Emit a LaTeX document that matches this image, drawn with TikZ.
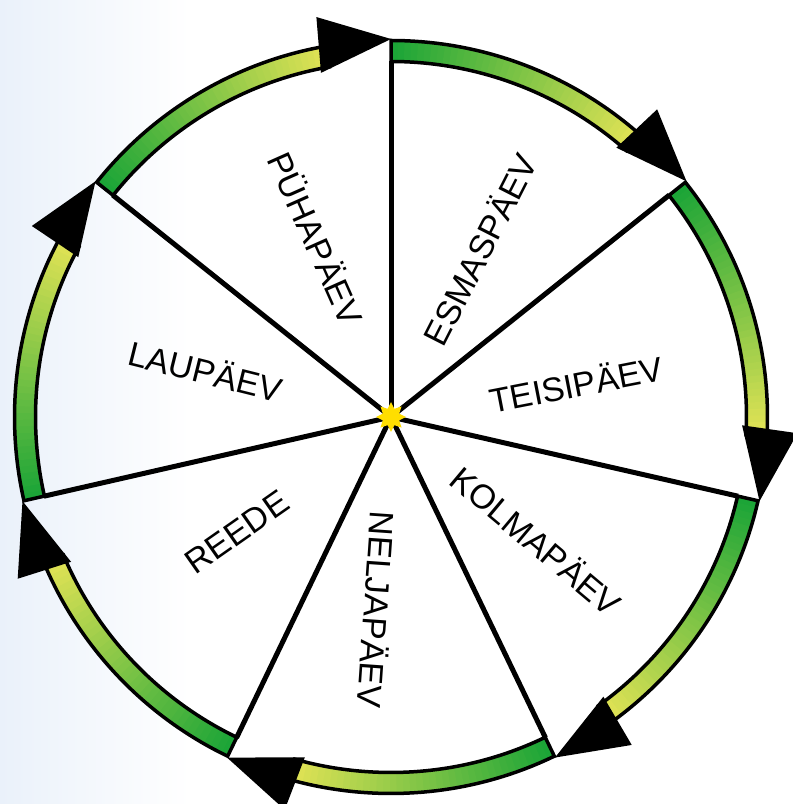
\documentclass[tikz,border=0pt]{standalone}
\usepackage{fontspec}
\setmainfont{Liberation Sans}
\usetikzlibrary{calc,shapes.geometric}
\definecolor{bandG}{RGB}{28,165,55}
\definecolor{bandY}{RGB}{226,227,85}
\definecolor{starY}{RGB}{255,222,0}
\definecolor{bgB}{RGB}{234,241,250}
\begin{document}
\begin{tikzpicture}[x=1pt,y=1pt,
  spoke/.style={line width=5pt},
  bandline/.style={line width=3.5pt, line join=miter},
  daylabel/.style={font=\fontsize{34}{40}\selectfont, inner sep=0pt},
  arrowhd/.style={fill=black}]
\useasboundingbox (0,0) rectangle (793,804);
\fill[white] (0,0) rectangle (793,804);
\shade[left color=bgB, right color=white] (0,0) rectangle (190,804);
\coordinate (c) at (391,387);
% spokes
\foreach \k in {0,...,6} {
  \pgfmathsetmacro{\th}{90-\k*360/7}
  \coordinate (s\k) at ($(c)+(\th:356)$);
  \draw[spoke] (c) -- (s\k);
}
% bands with gradient
\foreach \k in {0,...,6} {
  \pgfmathsetmacro{\ts}{90-\k*360/7}
  \pgfmathsetmacro{\tn}{90-(\k+1)*360/7}
  \pgfmathsetmacro{\te}{\tn+10}
  \foreach \i in {0,...,39} {
    \pgfmathsetmacro{\aa}{\ts-(\ts-\te)*\i/40}
    \pgfmathsetmacro{\bb}{\ts-(\ts-\te)*(\i+1)/40-0.3}
    \pgfmathtruncatemacro{\p}{100*\i/39}
    \fill[bandY!\p!bandG] ($(c)+(\aa:376.5)$) arc[start angle=\aa, end angle=\bb, radius=376.5]
      -- ($(c)+(\bb:355.5)$) arc[start angle=\bb, end angle=\aa, radius=355.5] -- cycle;
  }
  \draw[bandline] ($(c)+(\ts:376.5)$) arc[start angle=\ts, end angle=\te, radius=376.5]
    -- ($(c)+(\te:355.5)$) arc[start angle=\te, end angle=\ts, radius=355.5] -- cycle;
  \coordinate (t\k) at ($(c)+(\tn:378)$);
  \coordinate (b\k) at ($(c)+(\tn+11:379)$);
  \fill[arrowhd] (t\k) -- ($(b\k)!28pt!90:(t\k)$) -- ($(b\k)!28pt!-90:(t\k)$) -- cycle;
}
% center star
\node[star, star points=8, star point ratio=1.7, fill=starY, minimum size=30pt, inner sep=0pt] (ctr) at (c) {};
% labels
\node[daylabel, rotate=-66] (sun) at (317,566) {PÜHAPÄEV};
\node[daylabel, rotate=63] (mon) at (479,555) {ESMASPÄEV};
\node[daylabel, rotate=11] (tue) at (576,421) {TEISIPÄEV};
\node[daylabel, rotate=-40] (wed) at (537,264) {KOLMAPÄEV};
\node[daylabel, rotate=-94] (thu) at (378,194) {NELJAPÄEV};
\node[daylabel, rotate=35] (fri) at (237,272) {REEDE};
\node[daylabel, rotate=-14] (sat) at (206,434) {LAUPÄEV};
\end{tikzpicture}
\end{document}
